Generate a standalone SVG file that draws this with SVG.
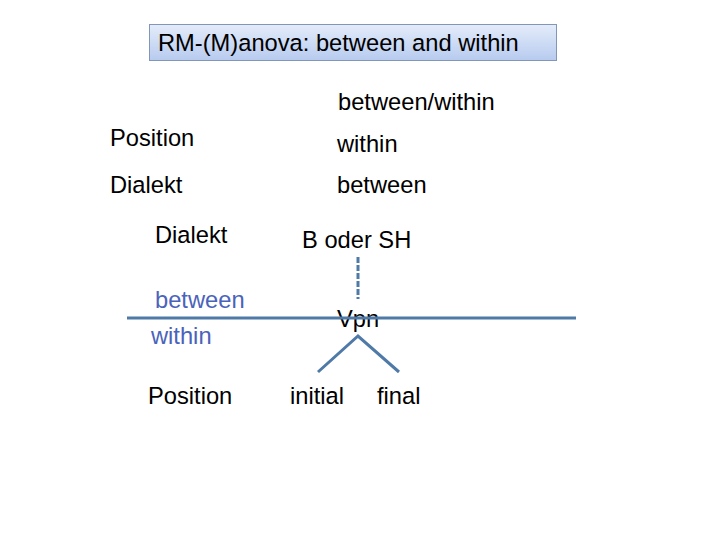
<svg xmlns="http://www.w3.org/2000/svg" width="720" height="540" viewBox="0 0 720 540">
<style>
text{font-family:"Liberation Sans",Arial,sans-serif;font-size:23.7px;fill:#000}
.b{fill:#4a63bb}
.ln{stroke:#4f7aa8;stroke-width:3;fill:none}
</style>
<defs>
<linearGradient id="g" x1="0" y1="0" x2="0" y2="1">
<stop offset="0" stop-color="#e4ecfa"/>
<stop offset="1" stop-color="#b7cbef"/>
</linearGradient>
</defs>
<rect width="720" height="540" fill="#fff"/>
<g id="title">
<rect x="149.5" y="24.5" width="407" height="36" fill="url(#g)" stroke="#8197b8" stroke-width="1"/>
<text x="158" y="51">RM-(M)anova: between and within</text>
</g>
<g id="table">
<text x="338" y="110">between/within</text>
<text x="110" y="146">Position</text>
<text x="337" y="152">within</text>
<text x="110" y="193">Dialekt</text>
<text x="337" y="193">between</text>
</g>
<g id="labels">
<text x="155" y="243">Dialekt</text>
<text class="b" x="155" y="308">between</text>
<text class="b" x="151" y="344">within</text>
<text x="148" y="404">Position</text>
</g>
<g id="nodes">
<g id="bsh"><text x="302" y="248">B oder SH</text></g>
<g id="vpn"><text x="337" y="327">Vpn</text></g>
<g id="initial"><text x="290" y="404">initial</text></g>
<g id="final"><text x="377" y="404">final</text></g>
</g>
<g id="connectors">
<line class="ln" x1="127" y1="318" x2="576" y2="318"/>
<line class="ln" x1="358" y1="257" x2="358" y2="299" stroke-dasharray="6,2"/>
<polyline class="ln" points="318,372 358,336 399,372"/>
</g>
</svg>
